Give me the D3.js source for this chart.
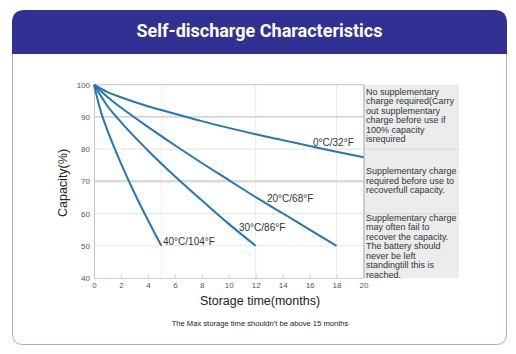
<!DOCTYPE html>
<html>
<head>
<meta charset="utf-8">
<script src="https://cdn.jsdelivr.net/npm/d3@7"></script>
<style>
  body { margin: 0; background: #fff; }
  svg { display: block; font-family: "Liberation Sans", Arial, sans-serif; }
</style>
</head>
<body>
<svg id="chart" width="516" height="354"></svg>
<script>
(() => {
  // data
  const xTicks = [0, 2, 4, 6, 8, 10, 12, 14, 16, 18, 20];
  const yTicks = [40, 50, 60, 70, 80, 90, 100];

  const months0 = [0, 1, 2, 4, 6, 8, 10, 12, 14, 16, 18, 20];
  const cap0 = [100, 97.7, 96.1, 93.3, 91, 88.7, 86.6, 84.6, 82.8, 81, 79.2, 77.5];

  const months20 = [0, 1, 2, 4, 6, 8, 10, 12, 14, 16, 18];
  const cap20 = [100, 96.2, 92.9, 86.9, 81.2, 75.7, 70.4, 65.1, 60.1, 55, 50];

  const months30 = [0, 1, 2, 4, 6, 8, 10, 12];
  const cap30 = [100, 93.4, 88.4, 79.6, 71.6, 64.1, 56.8, 50];

  const months40 = [0, 0.5, 1, 2, 3, 4, 5];
  const cap40 = [100, 91.8, 85.8, 75.6, 66.4, 58, 50];

  const seriesNames = ['0°C/32°F', '20°C/68°F', '30°C/86°F', '40°C/104°F'];

  const zoneTexts = [
    ['No supplementary', 'charge required(Carry', 'out supplementary', 'charge before use if', '100% capacity', 'isrequired'],
    ['Supplementary charge', 'required before use to', 'recoverfull capacity.'],
    ['Supplementary charge', 'may often fail to', 'recover the capacity.', 'The battery should', 'never be left', 'standingtill this is', 'reached.']
  ];

  const svg = d3.select('#chart');

  // card
  svg.append('path')
      .attr('d', 'M12.5,54 L12.5,334 Q12.5,344.5 23,344.5 L496,344.5 Q506.5,344.5 506.5,334 L506.5,54')
      .attr('fill', '#fff')
      .attr('stroke', '#a9a9d6')
      .attr('stroke-width', 1);

  svg.append('path')
      .attr('d', 'M12,54 L12,23 Q12,10 25,10 L494,10 Q507,10 507,23 L507,54 Z')
      .attr('fill', '#303192');

  svg.append('text')
      .attr('x', 259.5)
      .attr('y', 37)
      .attr('text-anchor', 'middle')
      .attr('fill', '#fff')
      .style('font-family', 'Roboto, sans-serif')
      .style('font-weight', 700)
      .style('font-size', '18px')
      .text('Self-discharge Characteristics');

  const x = d3.scaleLinear().domain([0, 20]).range([94, 363.5]);
  const y = d3.scaleLinear().domain([40, 100]).range([278, 84.7]);

  const grid = svg.append('g');

  // vertical drop lines at the end of the curves
  grid.selectAll('line.v')
      .data([5, 12, 18])
      .enter().append('line')
      .attr('x1', d => x(d)).attr('x2', d => x(d))
      .attr('y1', y(100)).attr('y2', y(40))
      .attr('stroke', '#ebebeb');

  const hStyle = {
    100: ['#cfcfcf', 1.2], 90: ['#c6c6c6', 1.2], 80: ['#e4e4e4', 1],
    70: ['#dadada', 2.5], 60: ['#e6e6e6', 1], 50: ['#e6e6e6', 1]
  };
  grid.selectAll('line.h')
      .data([100, 90, 80, 70, 60, 50])
      .enter().append('line')
      .attr('x1', x(0)).attr('x2', x(20))
      .attr('y1', d => y(d)).attr('y2', d => y(d))
      .attr('stroke', d => hStyle[d][0])
      .attr('stroke-width', d => hStyle[d][1]);

  // axes
  const yAxis = svg.append('g')
      .attr('transform', `translate(${x(0)},0)`)
      .call(d3.axisLeft(y).tickValues(yTicks).tickSize(0).tickPadding(4));
  yAxis.select('.domain').attr('stroke', '#c8c8c8');
  yAxis.selectAll('text').attr('fill', '#555').style('font-size', '8px');

  const xAxis = svg.append('g')
      .attr('transform', `translate(0,${y(40)})`)
      .call(d3.axisBottom(x).tickValues(xTicks).tickSize(-3).tickPadding(4));
  xAxis.select('.domain').attr('stroke', '#cfcfcf');
  xAxis.selectAll('.tick line').attr('stroke', '#cfcfcf');
  xAxis.selectAll('text').attr('fill', '#555').style('font-size', '8px');

  // zone box on the right
  const box = svg.append('g');
  box.append('rect')
      .attr('x', x(20)).attr('y', y(100))
      .attr('width', 95.5).attr('height', y(40) - y(100))
      .attr('fill', '#eaeced');
  box.selectAll('line.sep')
      .data([80, 60])
      .enter().append('line')
      .attr('x1', x(20)).attr('x2', x(20) + 95.5)
      .attr('y1', d => y(d)).attr('y2', d => y(d))
      .attr('stroke', '#d4d6d8');
  box.append('line')
      .attr('x1', x(20) + 0.5).attr('x2', x(20) + 0.5)
      .attr('y1', y(100)).attr('y2', y(40))
      .attr('stroke', '#a8a8a8');

  const zoneTop = [91.7, 171, 217.3];
  zoneTexts.forEach((lines, i) => {
    const t = box.append('text')
        .attr('fill', '#333')
        .style('font-size', '9px');
    lines.forEach((s, j) => {
      t.append('tspan')
          .attr('x', x(20) + 2.5)
          .attr('y', zoneTop[i] + 3.2 + j * 9.5)
          .text(s);
    });
  });

  // curves
  const series = [
    {name: seriesNames[0], m: months0, c: cap0, lx: 313, ly: 146},
    {name: seriesNames[1], m: months20, c: cap20, lx: 267, ly: 202},
    {name: seriesNames[2], m: months30, c: cap30, lx: 239, ly: 230.5},
    {name: seriesNames[3], m: months40, c: cap40, lx: 163, ly: 245}
  ];

  const line = d3.line()
      .x(d => x(d[0]))
      .y(d => y(d[1]))
      .curve(d3.curveMonotoneX);

  svg.append('g')
      .selectAll('path')
      .data(series)
      .enter().append('path')
      .attr('d', d => line(d.m.map((v, i) => [v, d.c[i]])))
      .attr('fill', 'none')
      .attr('stroke', '#2277b6')
      .attr('stroke-width', 2);

  svg.append('g')
      .selectAll('text')
      .data(series)
      .enter().append('text')
      .attr('x', d => d.lx)
      .attr('y', d => d.ly)
      .attr('fill', '#333')
      .style('font-size', '10px')
      .text(d => d.name);

  // axis titles
  svg.append('text')
      .attr('transform', 'translate(67,183) rotate(-90)')
      .attr('text-anchor', 'middle')
      .attr('fill', '#222')
      .style('font-size', '12.5px')
      .text('Capacity(%)');

  svg.append('text')
      .attr('x', 260)
      .attr('y', 305)
      .attr('text-anchor', 'middle')
      .attr('fill', '#222')
      .style('font-size', '12.5px')
      .text('Storage time(months)');

  svg.append('text')
      .attr('x', 260)
      .attr('y', 325.5)
      .attr('text-anchor', 'middle')
      .attr('fill', '#222')
      .style('font-size', '7.6px')
      .text('The Max storage time shouldn\'t be above 15 months');
})();
</script>
</body>
</html>
